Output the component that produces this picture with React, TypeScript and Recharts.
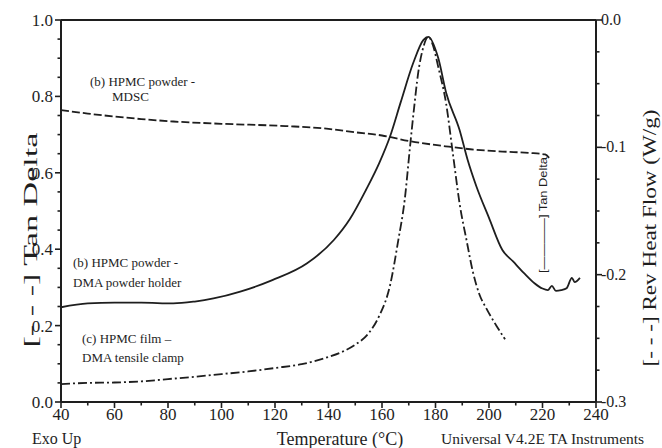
import { LineChart, Line, XAxis, YAxis, ReferenceLine } from 'recharts'

// (b) HPMC powder - MDSC, reversing heat flow (W/g)
const mdscTemp = [40, 50, 60, 70, 82, 100, 124, 140, 150, 160, 170, 185, 193, 205, 215, 221, 222.5]
const mdscFlow = [
  -0.0707, -0.0735, -0.0758, -0.0778, -0.0797, -0.0815, -0.0833, -0.0855, -0.0882, -0.0907, -0.095,
  -0.0995, -0.1015, -0.1033, -0.1044, -0.1056, -0.1084,
]

// (b) HPMC powder - DMA powder holder, tan delta (inner right scale)
const powderTemp = [
  40, 50, 60, 70, 82, 90, 97, 107, 119, 132, 142, 148, 154, 159, 163, 167, 171.7, 175.5, 177.3, 181,
  184, 189, 192, 195.3, 200, 205, 209, 213, 217, 220, 222, 223.5, 225, 227, 229, 231, 232, 234,
]
const powderTan = [
  0.00848, 0.00858, 0.0086, 0.0086, 0.00858, 0.00863, 0.00871, 0.00889, 0.00919, 0.00963, 0.01024,
  0.01079, 0.01155, 0.01226, 0.01295, 0.01385, 0.01488, 0.01548, 0.01556, 0.01501, 0.01409, 0.01312,
  0.01234, 0.01164, 0.01082, 0.00998, 0.00968, 0.00938, 0.00911, 0.00897, 0.00893, 0.00904, 0.00891,
  0.00893, 0.00898, 0.00925, 0.00914, 0.00925,
]

// (c) HPMC film - DMA tensile clamp, tan delta (left scale)
const filmTemp = [
  40, 50, 60, 70, 80, 90, 100, 110, 120, 130, 140, 145, 150, 155, 159, 163, 166, 168.5, 170.5, 172,
  173.5, 175.5, 177.3, 179, 181, 184, 186.5, 189, 191.7, 194, 196.5, 199, 203, 206,
]
const filmTan = [
  0.047, 0.05, 0.051, 0.054, 0.06, 0.066, 0.073, 0.08, 0.089, 0.099, 0.118, 0.131, 0.15, 0.18, 0.226,
  0.305, 0.42, 0.53, 0.67, 0.77, 0.86, 0.93, 0.956, 0.935, 0.878, 0.78, 0.65, 0.52, 0.42, 0.34, 0.28,
  0.245, 0.197, 0.164,
]

const xMajor = [40, 60, 80, 100, 120, 140, 160, 180, 200, 220, 240]
const leftMajor = [0, 0.2, 0.4, 0.6, 0.8, 1.0]
const flowMajor = [-0.3, -0.2, -0.1, 0]
const innerMajor = [0.008, 0.01, 0.012, 0.014]

const ink = '#1e1e1e'
const serif = '"Liberation Serif", "Times New Roman", serif'

const zip = (xs: number[], ys: number[]) => xs.map((t, i) => ({ t, v: ys[i] }))
const mdscData = zip(mdscTemp, mdscFlow)
const powderData = zip(powderTemp, powderTan)
const filmData = zip(filmTemp, filmTan)

// major ticks plus evenly spaced minor ones between them
const withMinor = (major: number[], step: number, from: number, to: number) => {
  const out: number[] = []
  const n = Math.round((to - from) / step)
  for (let i = 0; i <= n; i++) out.push(+(from + i * step).toFixed(6))
  major.forEach((m) => {
    if (!out.some((o) => Math.abs(o - m) < 1e-9)) out.push(m)
  })
  return out.sort((a, b) => a - b)
}
const isMajor = (v: number, major: number[]) => major.some((m) => Math.abs(m - v) < 1e-9)

const LeftTick = ({ x, y, payload }: any) => {
  const major = isMajor(payload.value, leftMajor)
  return (
    <g>
      <line x1={x - (major ? 6 : 3.5)} x2={x} y1={y} y2={y} stroke={ink} strokeWidth={1.6} />
      {major && (
        <text x={x - 8} y={y} dy={6} textAnchor="end" fontFamily={serif} fontSize={17} fill={ink}>
          {payload.value.toFixed(1)}
        </text>
      )}
    </g>
  )
}

const BottomTick = ({ x, y, payload }: any) => {
  const major = isMajor(payload.value, xMajor)
  return (
    <g>
      <line x1={x} x2={x} y1={y} y2={y + (major ? 6 : 3.5)} stroke={ink} strokeWidth={1.6} />
      {major && (
        <text x={x} y={y + 18} textAnchor="middle" fontFamily={serif} fontSize={17} fill={ink}>
          {payload.value}
        </text>
      )}
    </g>
  )
}

const FlowTick = ({ x, y, payload }: any) => {
  const major = isMajor(payload.value, flowMajor)
  return (
    <g>
      <line x1={x} x2={x + (major ? 6 : 3.5)} y1={y} y2={y} stroke={ink} strokeWidth={1.6} />
      {major && (
        <text x={x + 5} y={y} dy={5} textAnchor="start" fontFamily={serif} fontSize={16} fill={ink}>
          {Math.abs(payload.value) < 1e-9 ? '0.0' : payload.value.toFixed(1)}
        </text>
      )}
    </g>
  )
}

const InnerTick = ({ x, y, payload }: any) => {
  const major = isMajor(payload.value, innerMajor)
  return (
    <g>
      <line x1={x - (major ? 6 : 3.5)} x2={x} y1={y} y2={y} stroke={ink} strokeWidth={1.6} />
      {major && (
        <text x={x - 6} y={y} dy={6} textAnchor="end" fontFamily={serif} fontSize={16} fill={ink}>
          {payload.value.toFixed(3)}
        </text>
      )}
    </g>
  )
}

const note = { fontFamily: serif, fontSize: 13, fill: ink }

export default function App() {
  return (
    <div style={{ position: 'absolute', left: 0, top: 0, width: 662, height: 448, background: '#fff' }}>
      <LineChart width={662} height={448} margin={{ top: 20, right: 0, bottom: 0, left: 0 }}>
        <XAxis
          type="number"
          dataKey="t"
          domain={[40, 240]}
          ticks={withMinor(xMajor, 10, 40, 240)}
          interval={0}
          allowDataOverflow
          height={46}
          tickSize={0}
          tickMargin={0}
          tickLine={false}
          axisLine={{ stroke: ink, strokeWidth: 2 }}
          tick={<BottomTick />}
        />
        <YAxis
          yAxisId="left"
          type="number"
          domain={[0, 1]}
          ticks={withMinor(leftMajor, 0.05, 0, 1)}
          interval={0}
          allowDataOverflow
          width={61}
          tickSize={0}
          tickMargin={0}
          tickLine={false}
          axisLine={{ stroke: ink, strokeWidth: 2 }}
          tick={<LeftTick />}
        />
        <YAxis
          yAxisId="flow"
          orientation="right"
          type="number"
          domain={[-0.3, 0]}
          ticks={withMinor(flowMajor, 0.025, -0.3, 0)}
          interval={0}
          allowDataOverflow
          width={66}
          tickSize={0}
          tickMargin={0}
          tickLine={false}
          axisLine={{ stroke: ink, strokeWidth: 2 }}
          tick={<FlowTick />}
        />
        <YAxis
          yAxisId="inner"
          orientation="right"
          mirror
          type="number"
          domain={[0.006, 0.016]}
          ticks={withMinor(innerMajor, 0.001, 0.007, 0.015)}
          interval={0}
          allowDataOverflow
          width={0}
          tickSize={0}
          tickMargin={0}
          tickLine={false}
          axisLine={false}
          tick={<InnerTick />}
        />
        <ReferenceLine yAxisId="left" y={1} stroke={ink} strokeWidth={2} />
        <Line
          yAxisId="flow"
          data={mdscData}
          dataKey="v"
          type="monotone"
          stroke={ink}
          strokeWidth={1.8}
          strokeDasharray="8 3"
          dot={false}
          isAnimationActive={false}
        />
        <Line
          yAxisId="inner"
          data={powderData}
          dataKey="v"
          type="monotone"
          stroke={ink}
          strokeWidth={1.8}
          dot={false}
          isAnimationActive={false}
        />
        <Line
          yAxisId="left"
          data={filmData}
          dataKey="v"
          type="monotone"
          stroke={ink}
          strokeWidth={1.8}
          strokeDasharray="9 3 2 3"
          dot={false}
          isAnimationActive={false}
        />
      </LineChart>

      <svg
        width={662}
        height={448}
        style={{ position: 'absolute', left: 0, top: 0, pointerEvents: 'none' }}
      >
        <text x={90} y={86} {...note}>(b) HPMC powder -</text>
        <text x={112} y={101} {...note}>MDSC</text>
        <text x={73} y={267} {...note}>(b) HPMC powder -</text>
        <text x={73} y={287} {...note}>DMA powder holder</text>
        <text x={82} y={343} {...note}>(c) HPMC film –</text>
        <text x={82} y={362} {...note}>DMA tensile clamp</text>

        <text
          x={30}
          y={240}
          transform="rotate(-90 30 240)"
          textAnchor="middle"
          dominantBaseline="central"
          fontFamily={serif}
          fontSize={19}
          textLength={215}
          lengthAdjust="spacingAndGlyphs"
          fill={ink}
        >
          [- - -] Tan Delta
        </text>
        <text
          x={650}
          y={238}
          transform="rotate(-90 650 238)"
          textAnchor="middle"
          dominantBaseline="central"
          fontFamily={serif}
          fontSize={18}
          textLength={257}
          lengthAdjust="spacingAndGlyphs"
          fill={ink}
        >
          [- - -] Rev Heat Flow (W/g)
        </text>
        <text
          x={543}
          y={215}
          transform="rotate(-90 543 215)"
          textAnchor="middle"
          dominantBaseline="central"
          fontFamily='"Liberation Sans", Arial, sans-serif'
          fontSize={11}
          textLength={116}
          lengthAdjust="spacingAndGlyphs"
          fill={ink}
        >
          [————] Tan Delta
        </text>

        <text x={32} y={444} fontFamily={serif} fontSize={16} fill={ink}>Exo Up</text>
        <text x={340} y={445} textAnchor="middle" fontFamily={serif} fontSize={18} fill={ink}>
          Temperature (°C)
        </text>
        <text x={441} y={444} fontFamily={serif} fontSize={15.5} fill={ink}>
          Universal V4.2E TA Instruments
        </text>
      </svg>
    </div>
  )
}
